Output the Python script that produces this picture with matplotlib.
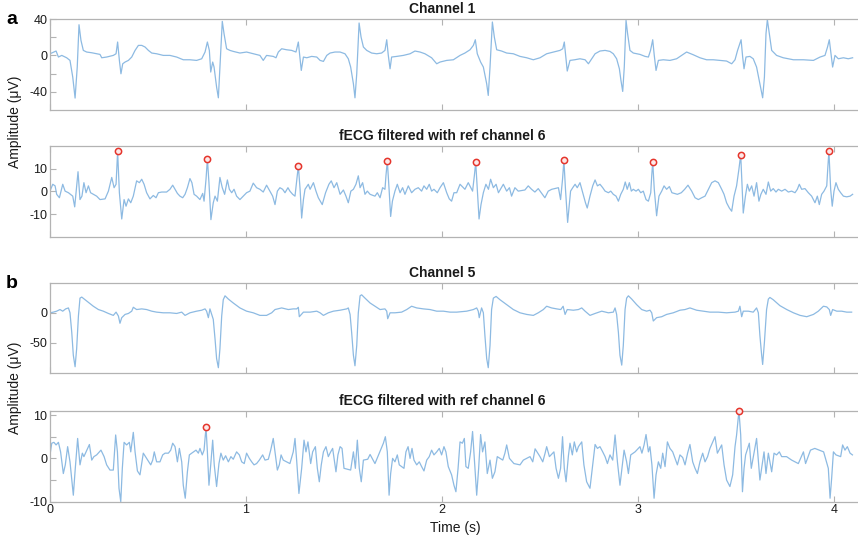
import numpy as np
import matplotlib
matplotlib.use("Agg")
import matplotlib.pyplot as plt

plt.rcParams['font.family'] = ['Liberation Sans', 'DejaVu Sans']

# ---------- DATA (time in s, amplitude in uV) ----------
ch1 = np.array([
    (0, 1.8), (0.031, 4.8), (0.043, -1.8), (0.060, 0), (0.085, -2.6), (0.102, -5.5), (0.116, -23.8),
    (0.128, -46.9), (0.139, -12.8), (0.148, 33.7), (0.158, 16.5), (0.170, 5.5), (0.187, 3.7), (0.213, 2.9),
    (0.238, 1.8), (0.255, 1.1), (0.264, -2.6), (0.289, -1.8), (0.323, 0), (0.337, 1.8), (0.345, 14.7),
    (0.354, -5.5), (0.362, -20.2), (0.371, -9.2), (0.383, -7.3), (0.400, -5.5), (0.417, -1.8), (0.434, 5.5),
    (0.451, 11.0), (0.468, 11.0), (0.485, 9.2), (0.502, 5.5), (0.519, 2.6), (0.544, 1.8), (0.578, 0),
    (0.612, 0), (0.646, -1.8), (0.680, -4.8), (0.714, -4.8), (0.748, -5.5), (0.774, -3.7), (0.791, 3.7),
    (0.803, 14.7), (0.813, 5.5), (0.820, -18.3), (0.830, -7.3), (0.837, -12.8), (0.850, -34.8), (0.859, -46.6),
    (0.867, -12.8), (0.879, 37.4), (0.888, 23.8), (0.901, 7.3), (0.918, 5.5), (0.935, 4.4), (0.969, 2.6),
    (1.003, 3.7), (1.037, 1.8), (1.071, 0), (1.088, -5.5), (1.105, 0), (1.139, -1.1), (1.153, -2.6),
    (1.165, 3.7), (1.182, 7.3), (1.207, 6.2), (1.233, 5.5), (1.255, 3.7), (1.267, 14.7), (1.282, -16.5),
    (1.293, -1.8), (1.310, -2.6), (1.335, -1.1), (1.361, -1.8), (1.378, -5.5), (1.395, -6.6), (1.412, 0),
    (1.429, 2.6), (1.454, 3.7), (1.480, 3.7), (1.505, 1.8), (1.522, -3.7), (1.534, -12.8), (1.548, -31.2),
    (1.556, -46.6), (1.565, -20.2), (1.577, 35.6), (1.587, 20.2), (1.599, 9.2), (1.616, 5.5), (1.641, 2.6),
    (1.667, 1.8), (1.692, 2.6), (1.709, 5.5), (1.718, 17.2), (1.726, 0), (1.735, -14.7), (1.743, -1.8),
    (1.769, -1.1), (1.803, 0), (1.837, 1.8), (1.862, 4.8), (1.888, 3.7), (1.913, 1.8), (1.947, -2.6),
    (1.973, -9.2), (1.990, -7.3), (2.024, -5.5), (2.058, -4.8), (2.092, 0), (2.117, 2.6), (2.143, 6.2),
    (2.160, 11.0), (2.170, 17.2), (2.180, 1.8), (2.197, -7.3), (2.211, -12.8), (2.228, -31.2), (2.236, -44.0),
    (2.245, -12.8), (2.257, 36.7), (2.267, 20.2), (2.279, 6.2), (2.304, 4.8), (2.330, 2.6), (2.364, 1.8),
    (2.398, -1.1), (2.432, -2.6), (2.466, -4.8), (2.500, -2.6), (2.534, 1.8), (2.568, 3.7), (2.602, 5.5),
    (2.616, 7.3), (2.624, 14.7), (2.639, -17.2), (2.653, -5.5), (2.677, -4.8), (2.704, -3.7), (2.730, -4.8),
    (2.747, -9.2), (2.764, -3.7), (2.781, 1.8), (2.806, 4.8), (2.832, 5.5), (2.857, 4.4), (2.874, 1.8),
    (2.891, -3.7), (2.905, -14.7), (2.913, -27.5), (2.922, -39.6), (2.930, -12.8), (2.939, 38.5), (2.947, 23.8),
    (2.959, 5.5), (2.976, 2.6), (3.010, 1.1), (3.036, -1.1), (3.053, -1.8), (3.064, 5.5), (3.075, 17.2),
    (3.083, 0), (3.092, -16.5), (3.104, -5.5), (3.129, -4.8), (3.163, -5.5), (3.197, -3.7), (3.223, 0),
    (3.248, 3.7), (3.282, 0.7), (3.316, -2.6), (3.350, -4.8), (3.384, -4.8), (3.418, -5.5), (3.452, -6.2),
    (3.478, -9.2), (3.495, -4.8), (3.508, 5.5), (3.526, 17.2), (3.534, -1.8), (3.541, -14.7), (3.551, -1.8),
    (3.571, -1.1), (3.588, -3.7), (3.605, -12.8), (3.622, -31.2), (3.636, -46.6), (3.645, -23.8), (3.653, 23.8),
    (3.660, 39.3), (3.670, 23.8), (3.682, 5.5), (3.707, 0), (3.741, -2.6), (3.793, -4.8), (3.844, -4.8),
    (3.895, -5.5), (3.929, -1.8), (3.954, 0), (3.967, 9.2), (3.976, 17.2), (3.985, 1.8), (3.993, -12.8),
    (4.005, 0), (4.022, -3.7), (4.048, -2.6), (4.073, -3.7), (4.095, -2.6)])

fecg_a = np.array([
    (0, 0.1), (0.014, 3.1), (0.026, 2.4), (0.034, -1.3), (0.048, -2.8), (0.065, 3.1), (0.077, 0.1), (0.094, -0.6),
    (0.116, -2.1), (0.126, -6.8), (0.133, -0.6), (0.143, 8.6), (0.153, -3.6), (0.163, -2.1), (0.173, 3.8),
    (0.184, -0.6), (0.196, 2.4), (0.207, -0.6), (0.221, -1.3), (0.238, -2.1), (0.255, -3.6), (0.281, -3.3),
    (0.298, 0.1), (0.315, 6.1), (0.327, 1.6), (0.337, 3.1), (0.345, 17.5), (0.354, -0.6), (0.366, -12.1),
    (0.378, -3.6), (0.388, -6.5), (0.400, -3.3), (0.412, -5.0), (0.425, -2.1), (0.442, 4.6), (0.456, 3.8),
    (0.468, 5.3), (0.480, 3.1), (0.493, -0.6), (0.510, -3.3), (0.527, -1.8), (0.541, -2.8), (0.553, -0.6),
    (0.570, -0.3), (0.595, -0.3), (0.612, 0.9), (0.626, 2.7), (0.638, 0.9), (0.650, -0.9), (0.663, -2.1),
    (0.677, -2.8), (0.689, -1.3), (0.701, 1.6), (0.714, 5.6), (0.724, 3.8), (0.735, -1.3), (0.748, -2.1),
    (0.765, -3.6), (0.779, -0.9), (0.786, -4.3), (0.796, 5.3), (0.803, 14.2), (0.811, 3.8), (0.821, -12.4),
    (0.833, -5.0), (0.842, -2.1), (0.854, -4.3), (0.867, 6.1), (0.879, 1.6), (0.891, -1.3), (0.905, 5.0),
    (0.915, 0.9), (0.927, -0.6), (0.939, 0.9), (0.952, -2.1), (0.969, -3.6), (0.986, -2.1), (1.003, -0.6),
    (1.020, 0.1), (1.037, 3.6), (1.054, 1.6), (1.071, 0.9), (1.088, -0.3), (1.105, 2.7), (1.122, 0.1),
    (1.136, -2.1), (1.148, -5.8), (1.160, 0.1), (1.173, 1.6), (1.187, 0.9), (1.199, -0.6), (1.214, 1.6),
    (1.224, 0.1), (1.238, -1.3), (1.250, -2.1), (1.267, 11.2), (1.276, 0.9), (1.284, -11.7), (1.293, -3.6),
    (1.301, 0.9), (1.318, 3.1), (1.327, 0.9), (1.344, 3.8), (1.357, 0.1), (1.369, -2.8), (1.389, -5.8),
    (1.406, -0.6), (1.423, 3.1), (1.435, 4.6), (1.449, 1.6), (1.463, 3.8), (1.480, -1.3), (1.497, 0.6),
    (1.510, -2.1), (1.522, -5.0), (1.535, 0.1), (1.548, 0.9), (1.561, 3.1), (1.573, 6.8), (1.582, 1.6),
    (1.595, 3.8), (1.607, -1.3), (1.619, 0.1), (1.633, -1.3), (1.658, -2.1), (1.670, -0.6), (1.684, -2.8),
    (1.697, 1.6), (1.709, 0.9), (1.714, 6.8), (1.721, 13.3), (1.730, 0.9), (1.738, -11.0), (1.747, -4.3),
    (1.760, 0.1), (1.772, 3.1), (1.786, -0.6), (1.799, 1.6), (1.811, -1.3), (1.828, 2.4), (1.845, -0.6),
    (1.862, 0.9), (1.879, 1.6), (1.896, 0.1), (1.908, 2.4), (1.922, 0.9), (1.935, 3.1), (1.947, 0.1),
    (1.959, 0.9), (1.976, -0.6), (1.990, 1.6), (2.007, 3.8), (2.024, -0.6), (2.037, -3.3), (2.049, -4.3),
    (2.061, -0.6), (2.075, -0.6), (2.092, 3.1), (2.117, 0.9), (2.134, 3.8), (2.156, 0.1), (2.165, 6.8),
    (2.172, 12.7), (2.180, 0.9), (2.189, -12.1), (2.199, -5.8), (2.211, -0.6), (2.224, 3.1), (2.237, 0.9),
    (2.248, 5.3), (2.262, 1.6), (2.276, 3.1), (2.288, -0.6), (2.313, 3.1), (2.330, 0.1), (2.344, 1.6),
    (2.355, -2.1), (2.372, 1.6), (2.389, 0.1), (2.423, 0.6), (2.440, 2.4), (2.457, 0.9), (2.474, -0.3),
    (2.491, 1.2), (2.525, -2.8), (2.542, 0.1), (2.560, 0.9), (2.594, 1.6), (2.605, -3.6), (2.615, 5.3),
    (2.622, 13.6), (2.630, 0.9), (2.641, -13.6), (2.656, 0.1), (2.667, 1.6), (2.679, 3.1), (2.690, 1.6),
    (2.704, 3.8), (2.718, -0.6), (2.732, -5.0), (2.741, -7.3), (2.755, -2.1), (2.769, 2.4), (2.781, 5.0),
    (2.793, 2.4), (2.806, 3.1), (2.820, 1.6), (2.832, 0.1), (2.849, -0.6), (2.861, 0.1), (2.874, -1.3),
    (2.888, -2.1), (2.900, -4.3), (2.912, -1.3), (2.925, 0.9), (2.935, 4.1), (2.945, 0.9), (2.956, 3.8),
    (2.966, 0.1), (2.976, 0.9), (2.990, 0.1), (3.002, 0.9), (3.014, -0.6), (3.027, 0.1), (3.041, -3.6),
    (3.053, -4.3), (3.065, -0.6), (3.070, 6.8), (3.075, 13.0), (3.083, 0.9), (3.095, -10.7), (3.107, -2.1),
    (3.121, 0.1), (3.133, 2.4), (3.146, 0.9), (3.160, 2.1), (3.173, -0.6), (3.201, -1.3), (3.221, -0.6),
    (3.238, 0.9), (3.255, 2.7), (3.274, 0.1), (3.291, -2.8), (3.308, -3.6), (3.325, -2.8), (3.342, -2.1),
    (3.359, 0.9), (3.376, 3.8), (3.393, 4.6), (3.410, 3.8), (3.427, 0.9), (3.439, -1.3), (3.452, -5.0),
    (3.466, -7.3), (3.478, -8.7), (3.490, -2.1), (3.503, 2.4), (3.515, 9.8), (3.524, 16.1), (3.530, 3.8),
    (3.537, -9.5), (3.548, -2.1), (3.558, 3.1), (3.568, 0.1), (3.580, 2.4), (3.592, -2.1), (3.605, 3.8),
    (3.617, -4.3), (3.627, -1.3), (3.639, 0.9), (3.653, -1.3), (3.665, 4.1), (3.677, 0.1), (3.690, 1.2),
    (3.704, -0.3), (3.716, 0.9), (3.733, 0.1), (3.750, 0.9), (3.767, -0.3), (3.784, 0.1), (3.801, -0.6),
    (3.813, 0.9), (3.823, 3.1), (3.835, 0.9), (3.852, 1.2), (3.869, -0.6), (3.886, -2.1), (3.903, -5.0),
    (3.915, -2.1), (3.925, -5.8), (3.937, -1.3), (3.949, 0.1), (3.963, 2.4), (3.968, 9.8), (3.974, 17.6),
    (3.983, 0.9), (3.991, -6.5), (4.000, 0.1), (4.010, 3.8), (4.022, 0.9), (4.034, -0.6), (4.048, -2.1),
    (4.065, -2.4), (4.082, -2.1), (4.095, -1.3)])

ch5 = np.array([
    (0, 0), (0.017, 1.1), (0.034, 2.7), (0.051, 5.4), (0.065, 2.7), (0.080, 6.5), (0.094, 8.1), (0.102, 0),
    (0.111, -32.6), (0.119, -70.6), (0.128, -89.6), (0.136, -59.7), (0.145, -5.4), (0.153, 24.4), (0.162, 26.1),
    (0.179, 21.7), (0.196, 17.4), (0.221, 10.9), (0.247, 5.4), (0.272, 2.7), (0.298, -1.1), (0.323, -4.3),
    (0.337, 1.1), (0.349, -5.4), (0.357, -17.4), (0.366, -8.1), (0.383, -2.7), (0.400, -1.1), (0.417, 2.7),
    (0.425, 9.2), (0.442, 5.4), (0.468, 6.5), (0.493, 5.4), (0.519, 2.7), (0.544, 1.1), (0.578, 0), (0.612, 0),
    (0.646, -1.1), (0.672, 1.1), (0.689, -4.3), (0.714, 0), (0.748, 2.7), (0.774, 4.3), (0.791, 6.5),
    (0.799, 2.7), (0.808, -8.1), (0.816, 6.5), (0.833, -10.9), (0.842, -43.4), (0.850, -76.0), (0.859, -91.2),
    (0.867, -59.7), (0.876, -5.4), (0.884, 21.7), (0.893, 28.2), (0.910, 22.8), (0.935, 16.3), (0.969, 8.1),
    (1.003, 2.7), (1.037, 0), (1.071, -4.3), (1.105, -4.3), (1.131, 0), (1.148, 5.4), (1.182, 8.1),
    (1.216, 5.4), (1.241, 6.5), (1.259, 6.5), (1.267, 9.2), (1.272, -6.5), (1.293, 1.1), (1.327, 1.1),
    (1.361, 2.7), (1.378, 0), (1.395, -4.3), (1.420, 0), (1.446, 2.7), (1.480, 4.3), (1.514, 6.5), (1.522, 8.1),
    (1.531, -2.7), (1.539, -32.6), (1.548, -70.6), (1.556, -88.0), (1.565, -54.3), (1.573, 0), (1.582, 28.2),
    (1.590, 29.9), (1.607, 24.4), (1.633, 16.3), (1.658, 10.9), (1.684, 5.4), (1.709, 6.5), (1.718, 2.7),
    (1.723, -9.8), (1.735, 0), (1.760, 0), (1.794, 1.1), (1.820, 5.4), (1.845, 10.9), (1.871, 8.1),
    (1.905, 6.5), (1.939, 5.4), (1.973, 2.7), (2.007, 2.7), (2.041, 1.1), (2.075, 1.1), (2.126, 2.7),
    (2.160, 5.4), (2.177, 8.1), (2.185, 2.7), (2.190, -8.1), (2.202, 8.1), (2.211, 0), (2.219, -38.0),
    (2.228, -76.0), (2.236, -91.2), (2.245, -54.3), (2.253, 5.4), (2.262, 24.4), (2.276, 27.2), (2.296, 21.7),
    (2.330, 13.6), (2.364, 5.4), (2.398, 0), (2.432, -2.7), (2.466, -4.3), (2.491, 0), (2.517, 5.4),
    (2.534, 10.9), (2.559, 8.1), (2.585, 6.5), (2.606, 5.4), (2.618, 10.9), (2.628, -2.7), (2.639, 5.4),
    (2.670, 4.3), (2.696, 5.4), (2.713, 8.1), (2.730, 2.7), (2.755, -4.3), (2.781, -1.1), (2.815, 2.7),
    (2.849, 0), (2.874, 1.1), (2.883, 8.1), (2.891, -2.7), (2.900, -32.6), (2.908, -70.6), (2.917, -86.9),
    (2.925, -54.3), (2.934, 5.4), (2.942, 24.4), (2.951, 28.2), (2.968, 22.8), (2.993, 13.6), (3.019, 5.4),
    (3.044, 2.7), (3.061, 4.3), (3.070, 0), (3.078, -13.6), (3.095, -8.1), (3.121, -6.5), (3.146, -2.7),
    (3.180, 0), (3.214, 4.3), (3.240, 5.4), (3.265, 8.1), (3.299, 4.3), (3.333, 2.7), (3.367, 1.1),
    (3.410, 1.1), (3.452, 0), (3.495, 1.1), (3.512, 2.7), (3.520, 10.9), (3.529, -6.5), (3.537, 2.7),
    (3.563, 2.7), (3.588, 1.1), (3.605, 8.1), (3.614, 0), (3.622, -38.0), (3.631, -70.6), (3.636, -85.8),
    (3.645, -48.9), (3.656, 5.4), (3.665, 22.8), (3.673, 25.5), (3.690, 21.7), (3.724, 11.9), (3.759, 5.4),
    (3.793, 0), (3.827, -4.3), (3.861, -6.5), (3.895, -2.7), (3.920, 2.7), (3.946, 10.9), (3.963, 9.8),
    (3.976, 5.4), (3.983, -4.3), (3.993, 5.4), (4.014, 2.7), (4.039, 2.7), (4.065, 1.1), (4.090, 1.1)])

fecg_b = np.array([
    (0, 0.8), (0.009, 3.5), (0.020, 3.7), (0.031, 3.1), (0.043, 3.7), (0.054, 1.5), (0.068, -3.5), (0.078, -1.5),
    (0.090, 2.7), (0.102, -0.8), (0.119, -8.5), (0.129, -2.3), (0.141, 4.6), (0.153, -1.5), (0.165, 1.2),
    (0.173, 0.4), (0.184, 1.5), (0.201, 3.2), (0.213, -0.4), (0.224, 0.4), (0.238, 0.8), (0.260, 1.9),
    (0.276, 0.4), (0.289, -1.5), (0.306, -2.7), (0.323, -2.7), (0.335, 5.4), (0.344, 1.5), (0.352, -6.9),
    (0.361, -10.0), (0.369, -2.3), (0.378, 3.7), (0.391, 3.1), (0.405, 3.7), (0.412, 1.5), (0.425, 6.0),
    (0.434, 1.5), (0.446, -2.9), (0.459, -3.8), (0.476, 1.2), (0.490, 0.2), (0.514, -1.5), (0.524, -0.4),
    (0.532, 1.5), (0.544, -0.8), (0.561, -0.8), (0.575, 0.8), (0.587, 1.2), (0.604, 1.2), (0.616, 1.9),
    (0.626, 3.5), (0.638, 2.7), (0.650, -0.8), (0.660, 2.3), (0.672, -0.8), (0.680, -6.2), (0.690, -9.2),
    (0.701, -3.1), (0.711, 0.8), (0.723, 1.2), (0.745, 1.9), (0.757, 1.2), (0.765, 2.3), (0.777, 0.8),
    (0.786, 1.9), (0.796, 7.2), (0.803, 1.5), (0.811, -6.2), (0.820, -1.5), (0.830, 4.2), (0.838, -1.5),
    (0.850, -6.5), (0.862, -1.2), (0.872, 1.2), (0.884, -0.4), (0.896, 0.6), (0.910, -0.8), (0.923, 0.4),
    (0.935, -0.2), (0.952, 1.5), (0.966, 0.8), (0.978, -0.8), (0.991, -1.2), (1.003, 1.2), (1.017, 0),
    (1.029, -0.8), (1.041, -1.5), (1.054, -1.2), (1.068, -0.4), (1.085, 0.8), (1.097, -0.4), (1.114, -0.2),
    (1.126, 1.9), (1.139, 4.6), (1.150, 0.8), (1.160, -2.7), (1.170, -1.5), (1.179, 0.8), (1.190, -0.4),
    (1.207, -0.8), (1.224, -1.2), (1.241, 1.5), (1.250, 4.6), (1.259, -0.8), (1.270, -8.1), (1.284, -2.3),
    (1.296, 4.2), (1.306, 1.5), (1.316, 3.8), (1.330, -1.2), (1.340, 1.5), (1.354, 2.7), (1.364, -2.3),
    (1.374, -5.4), (1.384, -1.5), (1.395, 1.5), (1.408, 2.7), (1.420, 0.4), (1.432, 1.5), (1.442, 2.3),
    (1.459, -3.1), (1.469, 0.8), (1.480, 2.7), (1.490, 2.3), (1.500, -2.3), (1.534, -2.7), (1.548, 1.5),
    (1.558, -2.3), (1.568, 4.2), (1.578, -2.3), (1.588, -5.4), (1.599, -0.4), (1.621, -0.2), (1.633, 0.9),
    (1.658, -1.2), (1.680, 1.2), (1.701, 3.5), (1.711, 5.0), (1.721, 1.5), (1.730, -8.5), (1.738, -3.5),
    (1.748, 0), (1.760, -0.8), (1.772, 0.8), (1.782, -1.5), (1.806, -2.3), (1.816, 1.5), (1.827, 2.7),
    (1.837, 0), (1.847, 2.3), (1.857, -0.4), (1.871, -1.5), (1.884, -0.8), (1.896, -1.9), (1.908, -2.9),
    (1.922, -0.4), (1.935, 0.4), (1.947, 1.9), (1.959, 0.8), (1.973, 1.5), (1.986, 2.3), (1.998, 0.8),
    (2.010, 2.7), (2.020, 1.5), (2.032, -1.9), (2.049, -3.8), (2.061, -6.2), (2.071, -7.7), (2.082, -2.3),
    (2.092, 3.8), (2.104, 3.5), (2.114, 4.6), (2.122, -1.9), (2.134, -2.3), (2.146, 1.5), (2.156, 6.2),
    (2.167, -1.5), (2.177, -8.5), (2.187, -2.3), (2.197, 5.5), (2.207, 1.5), (2.219, 3.8), (2.231, -3.5),
    (2.245, -0.4), (2.257, -4.6), (2.270, -3.1), (2.282, 0.4), (2.310, -0.4), (2.321, 1.2), (2.330, 3.1),
    (2.344, 0), (2.367, -1.2), (2.398, -1.5), (2.415, -0.4), (2.449, 0.4), (2.463, -0.8), (2.475, 2.2),
    (2.500, 0.4), (2.514, -0.8), (2.526, 1.2), (2.534, 2.7), (2.548, 0.4), (2.571, 1.5), (2.582, -2.3),
    (2.594, -4.6), (2.605, -2.3), (2.615, 5.0), (2.624, -2.3), (2.633, -5.4), (2.645, 0.6), (2.653, 3.5),
    (2.665, 0.8), (2.675, 3.8), (2.687, 1.5), (2.696, 2.7), (2.713, 3.8), (2.724, -1.5), (2.738, -5.4),
    (2.755, -6.9), (2.769, -1.5), (2.781, 3.2), (2.793, 2.3), (2.806, 2.7), (2.820, 1.5), (2.832, 0.4),
    (2.844, -1.2), (2.857, 0.8), (2.871, -0.4), (2.883, 5.4), (2.895, -0.8), (2.908, -6.2), (2.920, -1.5),
    (2.929, 1.9), (2.942, -0.8), (2.951, -3.5), (2.963, 0.8), (2.985, 1.5), (3.010, 2.7), (3.020, 1.2),
    (3.031, 3.1), (3.041, 5.5), (3.053, 1.5), (3.061, 2.7), (3.071, -1.5), (3.082, -9.2), (3.092, -3.8),
    (3.104, -0.8), (3.116, -2.3), (3.126, 1.2), (3.138, -1.9), (3.150, 3.8), (3.163, 2.3), (3.177, 1.5),
    (3.189, 0), (3.201, -1.5), (3.214, 0.8), (3.228, 0.2), (3.240, -1.5), (3.253, 1.2), (3.265, 3.2),
    (3.279, -0.8), (3.291, -2.3), (3.303, -3.5), (3.316, -0.8), (3.330, 1.2), (3.342, -0.8), (3.355, 0.4),
    (3.367, 2.3), (3.393, 5.0), (3.405, 1.2), (3.427, 3.1), (3.439, -1.5), (3.452, -5.0), (3.469, -6.5),
    (3.483, -3.8), (3.495, 2.7), (3.503, 5.4), (3.515, 11.0), (3.524, 5.4), (3.533, -7.7), (3.541, -2.3),
    (3.549, 0.8), (3.568, 3.5), (3.578, -2.3), (3.605, 4.6), (3.622, -5.0), (3.643, 1.5), (3.653, -3.5),
    (3.665, 1.2), (3.682, -3.1), (3.694, 1.2), (3.707, 0.8), (3.721, 1.5), (3.733, 0.4), (3.758, 0.4),
    (3.784, -0.4), (3.818, -1.2), (3.844, 1.5), (3.855, -1.2), (3.880, 1.9), (3.902, 2.3), (3.924, 1.9),
    (3.947, 1.5), (3.971, -2.3), (3.980, -9.2), (3.988, -4.6), (3.997, 1.5), (4.010, 0.8), (4.034, 0.4),
    (4.044, 3.1), (4.056, 1.9), (4.068, 2.7), (4.082, 1.2), (4.094, 0.8)])

# detected fetal R peaks
peaks_a_t = [0.345, 0.803, 1.267, 1.721, 2.172, 2.622, 3.075, 3.524, 3.974]
peaks_a_v = [17.5, 14.2, 11.2, 13.3, 12.7, 13.6, 13.0, 16.1, 17.6]
peaks_b_t = [0.796, 3.515]
peaks_b_v = [7.2, 11.0]

line_col = '#8dbae2'
axis_col = '#b3b3b3'
text_col = '#1a1a1a'

W, H = 858, 543
fig = plt.figure(figsize=(W / 100, H / 100), dpi=100)


def make_axes(top_px, bottom_px, title, ylim, yticks, ylabels, xlabels=False):
    ax = fig.add_axes([50 / W, 1 - bottom_px / H, 810 / W, (bottom_px - top_px) / H])
    ax.set_xlim(0, 810 / 196)
    ax.set_ylim(*ylim)
    ax.set_xticks([0, 1, 2, 3, 4])
    ax.set_yticks(yticks)
    ax.set_yticklabels(ylabels)
    if not xlabels:
        ax.set_xticklabels([])
    ax.tick_params(direction='in', length=4.5, width=0.8, color=axis_col,
                   labelcolor=text_col, labelsize=9, top=True, bottom=True,
                   right=False, pad=2)
    for s in ax.spines.values():
        s.set_color(axis_col)
        s.set_linewidth(0.9)
    ax.spines['right'].set_visible(False)
    ax.set_title(title, fontsize=10, fontweight='bold', x=0.484, pad=4, color=text_col)
    return ax


# ---------- PANEL a ----------
ax1 = make_axes(19, 110, "Channel 1", (-60, 40), [-40, -20, 0, 20, 40],
                ['-40', '', '0', '', '40'])
ax1.plot(ch1[:, 0], ch1[:, 1], color=line_col, lw=0.9)

ax2 = make_axes(145.7, 237, "fECG filtered with ref channel 6", (-20, 20),
                [-10, 0, 10], ['-10', '0', '10'])
ax2.plot(fecg_a[:, 0], fecg_a[:, 1], color=line_col, lw=0.9)
ax2.plot(peaks_a_t, peaks_a_v, 'o', ms=4.5, mfc='#fde8e8', mec='#e5352c',
         mew=1.1, clip_on=False, zorder=3)

# ---------- PANEL b ----------
ax3 = make_axes(282.7, 373, "Channel 5", (-100, 50), [-50, 0], ['-50', '0'])
ax3.plot(ch5[:, 0], ch5[:, 1], color=line_col, lw=0.9)

ax4 = make_axes(410.7, 501.7, "fECG filtered with ref channel 6", (-10, 11),
                [-10, -5, 0, 5, 10], ['-10', '', '0', '', '10'], xlabels=True)
ax4.plot(fecg_b[:, 0], fecg_b[:, 1], color=line_col, lw=0.9)
ax4.plot(peaks_b_t, peaks_b_v, 'o', ms=4.5, mfc='#fde8e8', mec='#e5352c',
         mew=1.1, clip_on=False, zorder=3)
ax4.set_xlabel("Time (s)", fontsize=10, color=text_col, labelpad=3)

# ---------- LABELS ----------
fig.text(15 / W, 1 - 122 / H, "Amplitude (\u03bcV)", rotation=90, fontsize=10,
         ha='center', va='center', color=text_col)
fig.text(15 / W, 1 - 388 / H, "Amplitude (\u03bcV)", rotation=90, fontsize=10,
         ha='center', va='center', color=text_col)
fig.text(12 / W, 1 - 20 / H, "a", fontsize=14, fontweight='bold', ha='center', va='center')
fig.text(12 / W, 1 - 283 / H, "b", fontsize=14, fontweight='bold', ha='center', va='center')

fig.savefig("out.png", dpi=100)
